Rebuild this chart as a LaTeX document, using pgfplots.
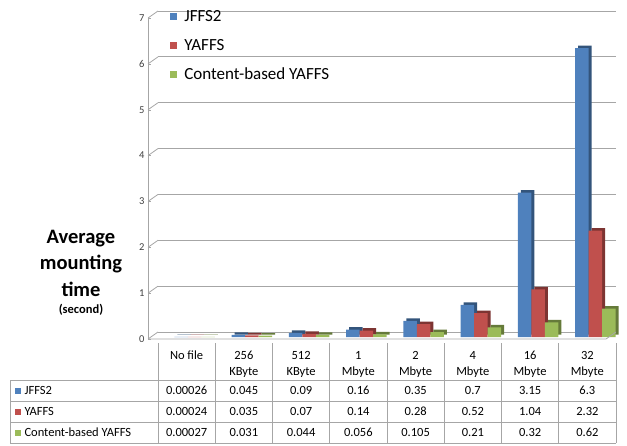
\documentclass[border=0pt]{standalone}
\usepackage{pgfplots}
\pgfplotsset{compat=1.18}
\usepackage{fontspec}
\setmainfont{Carlito}
\definecolor{cb}{HTML}{4F81BD}
\definecolor{cr}{HTML}{C0504D}
\definecolor{cg}{HTML}{9BBB59}
\definecolor{gl}{HTML}{A6A6A6}
\pgfplotstableread{
x jffs yaffs cb
0 0.00026 0.00024 0.00027
1 0.045 0.035 0.031
2 0.09 0.07 0.044
3 0.16 0.14 0.056
4 0.35 0.28 0.105
5 0.7 0.52 0.21
6 3.15 1.04 0.32
7 6.3 2.32 0.62
}\datatable
\begin{document}
\begin{tikzpicture}
\path[use as bounding box] (0pt,0pt) rectangle (627pt,445pt);
\begin{axis}[
  at={(158pt,108pt)}, anchor=south west,
  scale only axis, width=458pt, height=321pt,
  xmin=-0.5, xmax=7.5, ymin=0, ymax=7,
  ytick={0,...,7}, xtick=\empty,
  axis x line=none, axis y line*=left,
  y axis line style={gl, xshift=-10pt, yshift=-2pt, line width=0.7pt},
  ytick style={gl, xshift=-10pt, yshift=-2pt},
  major tick length=3pt,
  ymajorgrids, grid style={gl, line width=0.8pt, yshift=5pt},
  yticklabel style={font=\fontsize{10.5}{12}\selectfont, text=black!75, xshift=-10pt, yshift=-2pt},
  /pgf/number format/assume math mode=true,
  ybar=0pt, bar width=13.5pt,
  legend style={at={(0.02,1.03)}, anchor=north west, draw=none, fill=none,
    font=\fontsize{17}{20}\selectfont, row sep=12pt, cells={anchor=west}},
  clip=false,
]
% 3D side/top faces
\addplot[fill=cb!65!black, draw=none, bar shift=-5.5pt, xshift=3pt, yshift=2.5pt, forget plot] table[x=x,y=jffs]{\datatable};
\addplot[fill=cr!65!black, draw=none, bar shift=8pt, xshift=3pt, yshift=2.5pt, forget plot] table[x=x,y=yaffs]{\datatable};
\addplot[fill=cg!65!black, draw=none, bar shift=21.5pt, xshift=3pt, yshift=2.5pt, forget plot] table[x=x,y=cb]{\datatable};
% front faces
\addplot[fill=cb, draw=none, bar shift=-5.5pt,
  legend image code/.code={\fill[cb] (0pt,-3.5pt) rectangle (7pt,3.5pt);\path (12pt,0pt);}] table[x=x,y=jffs]{\datatable};
\addlegendentry{JFFS2}
\addplot[fill=cr, draw=none, bar shift=8pt,
  legend image code/.code={\fill[cr] (0pt,-3.5pt) rectangle (7pt,3.5pt);\path (12pt,0pt);}] table[x=x,y=yaffs]{\datatable};
\addlegendentry{YAFFS}
\addplot[fill=cg, draw=none, bar shift=21.5pt,
  legend image code/.code={\fill[cg] (0pt,-3.5pt) rectangle (7pt,3.5pt);\path (12pt,0pt);}] table[x=x,y=cb]{\datatable};
\addlegendentry{Content-based YAFFS}
\pgfplotsinvokeforeach{0,...,7}{
  \draw[gl, line width=0.8pt] ([xshift=-10pt,yshift=-2pt]axis cs:-0.5,#1) -- ([yshift=5pt]axis cs:-0.5,#1);
}
\draw[gl, line width=0.8pt] ([xshift=-10pt,yshift=-2pt]axis cs:-0.5,0) -- ([xshift=-10pt,yshift=-2pt]axis cs:7.5,0) -- ([yshift=5pt]axis cs:7.5,0);
\end{axis}
% y label
\node[align=center, font=\fontsize{20.5}{26.5}\selectfont\bfseries] at (81pt,182pt) {Average\\mounting\\time};
\node[font=\fontsize{12.5}{14}\selectfont\bfseries] at (81pt,135pt) {(second)};
% table grid
\begin{scope}[gl, line width=0.6pt]
\foreach \i in {0,...,8} {
  \draw (158pt+\i*57.25pt,2pt) -- (158pt+\i*57.25pt,102pt);
}
\draw (10pt,2pt) -- (10pt,65pt);
\foreach \yy in {2,23,44,65} {
  \draw (10pt,\yy pt) -- (616pt,\yy pt);
}
\end{scope}
\begin{scope}[font=\fontsize{12.5}{14}\selectfont]
\node at (186.6pt,90pt) {No file};
\foreach \a/\b [count=\i from 1] in {256/KByte,512/KByte,1/Mbyte,2/Mbyte,4/Mbyte,16/Mbyte,32/Mbyte} {
  \node at (186.6pt+\i*57.25pt,90pt) {\a};
  \node at (186.6pt+\i*57.25pt,73pt) {\b};
}
\foreach \v [count=\i from 0] in {0.00026,0.045,0.09,0.16,0.35,0.7,3.15,6.3} {
  \node at (186.6pt+\i*57.25pt,54.5pt) {\v};
}
\foreach \v [count=\i from 0] in {0.00024,0.035,0.07,0.14,0.28,0.52,1.04,2.32} {
  \node at (186.6pt+\i*57.25pt,33.5pt) {\v};
}
\foreach \v [count=\i from 0] in {0.00027,0.031,0.044,0.056,0.105,0.21,0.32,0.62} {
  \node at (186.6pt+\i*57.25pt,12.5pt) {\v};
}
\fill[cb] (15pt,51.5pt) rectangle (21pt,57.5pt);
\fill[cr] (15pt,30.5pt) rectangle (21pt,36.5pt);
\fill[cg] (15pt,9.5pt) rectangle (21pt,15.5pt);
\node[anchor=west] at (21pt,54.5pt) {JFFS2};
\node[anchor=west] at (21pt,33.5pt) {YAFFS};
\node[anchor=west] at (21pt,12.5pt) {Content-based YAFFS};
\end{scope}
\end{tikzpicture}
\end{document}
